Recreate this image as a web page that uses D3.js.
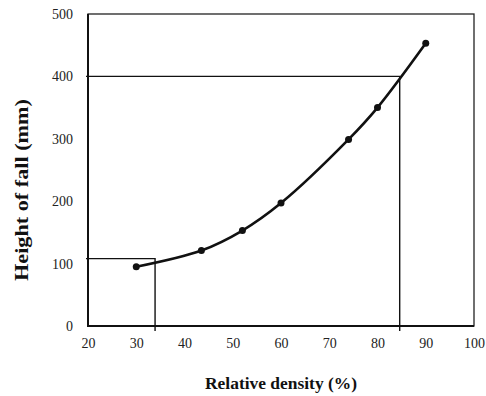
<!DOCTYPE html>
<html lang="en">
<head>
    <meta charset="UTF-8">
    <script src="https://d3js.org/d3.v7.min.js"></script>
    <title>Height of fall</title>
    <style>
        body { margin: 0; background: #fff; }
    </style>
</head>
<body>
    <script>
        // measured points
        const density = [30, 43.5, 52, 60, 74, 80, 90];
        const fallHeight = [95, 121, 153, 197, 299, 350, 453];
        // reading lines on the chart: [density, height]
        const guideLow = [33.9, 108];
        const guideHigh = [84.6, 400];
        const xTicks = [20, 30, 40, 50, 60, 70, 80, 90, 100];
        const yTicks = [0, 100, 200, 300, 400, 500];

        const width = 486;
        const height = 396;
        const margin = {top: 14, right: 12, bottom: 70, left: 88};
        const serif = 'Liberation Serif, DejaVu Serif, Times New Roman, serif';

        const x = d3.scaleLinear()
            .domain([20, 100])
            .range([margin.left, width - margin.right]);
        const y = d3.scaleLinear()
            .domain([0, 500])
            .range([height - margin.bottom, margin.top]);

        const svg = d3.select('body')
            .append('svg')
            .attr('width', width)
            .attr('height', height)
            .style('font-family', serif);

        const xAxis = d3.axisBottom(x).tickValues(xTicks).tickSize(0).tickPadding(12);
        const yAxis = d3.axisLeft(y).tickValues(yTicks).tickSize(0).tickPadding(15);

        const gx = svg.append('g')
            .attr('transform', `translate(0, ${y(0)})`)
            .call(xAxis)
            .attr('font-family', null)
            .attr('font-size', 14);
        gx.select('.domain').remove();

        const gy = svg.append('g')
            .attr('transform', `translate(${x(20)}, 0)`)
            .call(yAxis)
            .attr('font-family', null)
            .attr('font-size', 14);
        gy.select('.domain').remove();
        svg.selectAll('.tick text').attr('fill', '#222');

        // frame
        svg.append('rect')
            .attr('x', x(20))
            .attr('y', y(500))
            .attr('width', x(100) - x(20))
            .attr('height', y(0) - y(500))
            .attr('fill', 'none')
            .attr('stroke', '#222')
            .attr('stroke-width', 1.3);
        // heavier left and bottom axes
        svg.append('path')
            .attr('d', `M${x(20)},${y(500)}V${y(0)}H${x(100)}`)
            .attr('fill', 'none')
            .attr('stroke', '#111')
            .attr('stroke-width', 2);

        // guide lines
        [guideLow, guideHigh].forEach(g => {
            svg.append('path')
                .attr('d', `M${x(20) - 2},${y(g[1])}H${x(g[0])}V${y(0) + 5}`)
                .attr('fill', 'none')
                .attr('stroke', '#111')
                .attr('stroke-width', 1.4);
        });

        const pts = density.map((d, i) => [d, fallHeight[i]]);

        const line = d3.line()
            .x(d => x(d[0]))
            .y(d => y(d[1]))
            .curve(d3.curveCatmullRom.alpha(0.5));

        svg.append('path')
            .datum(pts)
            .attr('d', line)
            .attr('fill', 'none')
            .attr('stroke', '#111')
            .attr('stroke-width', 2.6);

        svg.selectAll('circle')
            .data(pts).enter()
            .append('circle')
            .attr('cx', d => x(d[0]))
            .attr('cy', d => y(d[1]))
            .attr('r', 3.5)
            .attr('fill', '#111');

        svg.append('text')
            .attr('x', 281)
            .attr('y', 389)
            .attr('text-anchor', 'middle')
            .attr('font-weight', 'bold')
            .attr('font-size', 17)
            .attr('textLength', 152)
            .attr('lengthAdjust', 'spacingAndGlyphs')
            .attr('fill', '#111')
            .text('Relative density (%)');

        svg.append('text')
            .attr('transform', `translate(28, 190) rotate(-90)`)
            .attr('text-anchor', 'middle')
            .attr('font-weight', 'bold')
            .attr('font-size', 18)
            .attr('textLength', 182)
            .attr('lengthAdjust', 'spacingAndGlyphs')
            .attr('fill', '#111')
            .text('Height of fall (mm)');
    </script>
</body>
</html>
